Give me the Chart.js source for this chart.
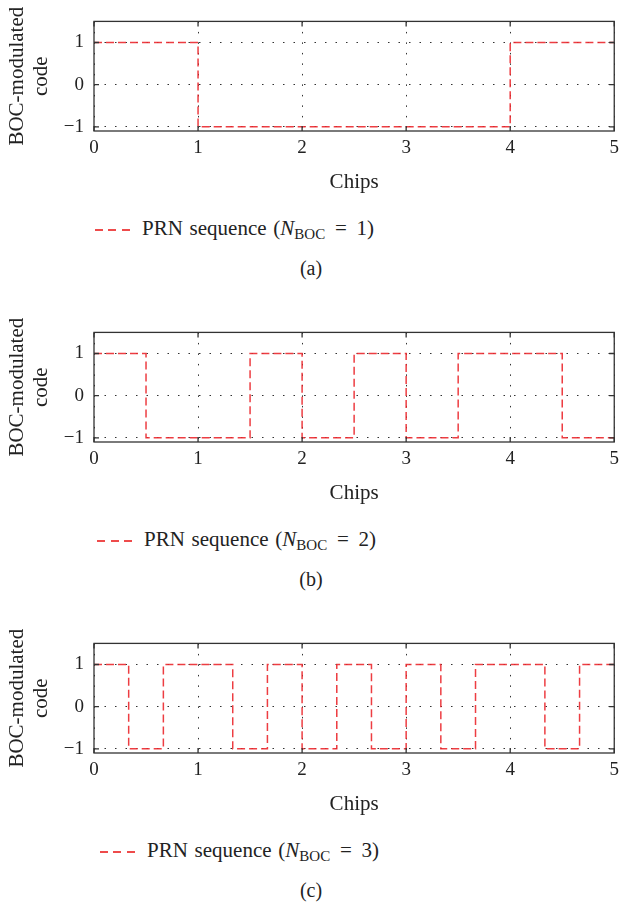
<!DOCTYPE html>
<html>
<head>
<meta charset="utf-8">
<script src="https://cdn.jsdelivr.net/npm/chart.js@4.4.1/dist/chart.umd.min.js"></script>
<style>
  body { margin: 0; background: #fff; font-family: "Liberation Serif", serif; color: #222; }
  .panel { position: absolute; left: 0; width: 625px; height: 311px; }
  .panel canvas { position: absolute; left: 0; top: 0; }
  .legend { position: absolute; top: 216px; font-size: 21px; line-height: 24px; white-space: nowrap; word-spacing: 1.5px; }
  .legend .sample { display: inline-block; width: 35px; height: 2px; vertical-align: middle; margin-right: 12px;
    background: repeating-linear-gradient(to right, #ee4b4b 0 8px, transparent 8px 13.5px); }
  .legend sub { font-size: 15px; vertical-align: -4px; line-height: 0; }
  .legend .eq { padding: 0 3px; }
  .caption { position: absolute; left: 0; width: 622px; top: 256px; text-align: center; font-size: 20px; line-height: 24px; }
</style>
</head>
<body>
<div class="panel" style="top:0px">
  <canvas id="boc1" width="625" height="200"></canvas>
  <div class="legend" style="left:95px"><span class="sample"></span>PRN sequence (<i>N</i><sub>BOC</sub> <span class="eq">=</span> 1)</div>
  <div class="caption">(a)</div>
</div>
<div class="panel" style="top:311px">
  <canvas id="boc2" width="625" height="200"></canvas>
  <div class="legend" style="left:97px"><span class="sample"></span>PRN sequence (<i>N</i><sub>BOC</sub> <span class="eq">=</span> 2)</div>
  <div class="caption">(b)</div>
</div>
<div class="panel" style="top:622px">
  <canvas id="boc3" width="625" height="200"></canvas>
  <div class="legend" style="left:100px"><span class="sample"></span>PRN sequence (<i>N</i><sub>BOC</sub> <span class="eq">=</span> 3)</div>
  <div class="caption">(c)</div>
</div>
<script>
const chipTicks = [0, 1, 2, 3, 4, 5];
const levelTicks = [-1, 0, 1];

// chip positions where the code changes, and the level held after each one
const edges1 = [0, 1, 4, 5];
const levels1 = [1, -1, 1];
const edges2 = [0, 0.5, 1.5, 2, 2.5, 3, 3.5, 4.5, 5];
const levels2 = [1, -1, 1, -1, 1, -1, 1, -1];
const edges3 = [0, 1/3, 2/3, 4/3, 5/3, 2, 7/3, 8/3, 3, 10/3, 11/3, 13/3, 14/3, 5];
const levels3 = [1, -1, 1, -1, 1, -1, 1, -1, 1, -1, 1, -1, 1];

const serif = '"Liberation Serif", serif';
const ink = '#222';

function toPoints(edges, levels) {
    return edges.map((x, i) => ({ x: x, y: levels[Math.min(i, levels.length - 1)] }));
}

// box round the plot with small inward ticks, matlab style
const frame = {
    id: 'frame',
    afterDraw(chart) {
        const { ctx, chartArea: a, scales: { x, y } } = chart;
        ctx.save();
        ctx.strokeStyle = '#333';
        ctx.lineWidth = 1.3;
        ctx.strokeRect(a.left, a.top, a.right - a.left, a.bottom - a.top);
        ctx.beginPath();
        x.ticks.forEach(t => {
            const px = x.getPixelForValue(t.value);
            ctx.moveTo(px, a.bottom); ctx.lineTo(px, a.bottom - 5);
            ctx.moveTo(px, a.top); ctx.lineTo(px, a.top + 5);
        });
        y.ticks.forEach(t => {
            const py = y.getPixelForValue(t.value);
            ctx.moveTo(a.left, py); ctx.lineTo(a.left + 5, py);
            ctx.moveTo(a.right, py); ctx.lineTo(a.right - 5, py);
        });
        ctx.stroke();
        ctx.restore();
    }
};

function makeChart(id, edges, levels) {
    return new Chart(document.getElementById(id), {
        type: 'line',
        data: {
            datasets: [{
                data: toPoints(edges, levels),
                stepped: 'before',
                borderColor: 'rgba(235, 40, 45, 0.9)',
                borderWidth: 1.5,
                borderDash: [8, 4],
                pointRadius: 0,
                fill: false
            }]
        },
        options: {
            responsive: false,
            animation: false,
            devicePixelRatio: 1,
            layout: { padding: { top: 21, right: 3, left: 0, bottom: 0 } },
            plugins: { legend: { display: false }, tooltip: { enabled: false } },
            scales: {
                x: {
                    type: 'linear',
                    min: 0,
                    max: 5,
                    afterBuildTicks: s => { s.ticks = chipTicks.map(v => ({ value: v })); },
                    afterFit: s => { s.height = 69; },
                    grid: { color: '#333', lineWidth: 1, drawTicks: false },
                    border: { display: false, dash: [1.5, 9] },
                    ticks: { padding: 6, color: ink, font: { family: serif, size: 19 } },
                    title: { display: true, text: 'Chips', color: ink, font: { family: serif, size: 21 }, padding: { top: 0, bottom: 5 } }
                },
                y: {
                    min: -1.1,
                    max: 1.5,
                    afterBuildTicks: s => { s.ticks = levelTicks.map(v => ({ value: v })); },
                    afterFit: s => { s.width = 94; },
                    grid: { color: '#333', lineWidth: 1, drawTicks: false },
                    border: { display: false, dash: [1.5, 9] },
                    ticks: {
                        padding: 10,
                        color: ink,
                        font: { family: serif, size: 19 },
                        callback: v => String(v).replace('-', '\u2212')
                    },
                    title: {
                        display: true,
                        text: ['BOC-modulated', 'code'],
                        color: ink,
                        font: { family: serif, size: 21, lineHeight: 1.15 },
                        padding: { top: 5, bottom: 0 }
                    }
                }
            }
        },
        plugins: [frame]
    });
}

makeChart('boc1', edges1, levels1);
makeChart('boc2', edges2, levels2);
makeChart('boc3', edges3, levels3);
</script>
</body>
</html>
